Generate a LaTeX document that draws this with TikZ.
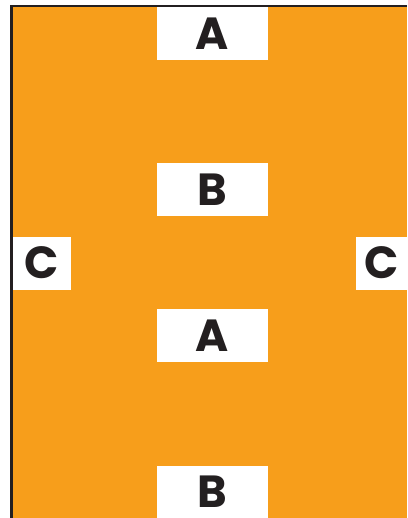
\documentclass[tikz,border=0pt]{standalone}
\usepackage{fontspec}
\setmainfont{Poppins}
\usepackage{tikz}
\definecolor{Field}{HTML}{F79E1B}
\definecolor{Ink}{HTML}{231F20}

\begin{document}
\begin{tikzpicture}[x=1pt,y=-1pt,
  zone/.style={fill=white,inner sep=0pt,text=Ink,font=\bfseries\fontsize{45}{45}\selectfont,minimum width=111pt,minimum height=53pt},
  side/.style={zone,minimum width=#1}]
\useasboundingbox (0,0) rectangle (407,518);
\fill[Field] (11,6) rectangle (407,518);
\node[zone] (topA) at (212.5,33.5) {A};
\node[zone] (topB) at (212.5,190) {B};
\node[side=58pt] (leftC) at (42,263) {C};
\node[side=51pt] (rightC) at (381.5,263) {C};
\node[zone] (lowA) at (212.5,335.5) {A};
\node[zone,minimum height=52pt] (lowB) at (212.5,492) {B};
% frame on the left and top edges
\draw[Ink,line width=2.6pt] (11.3,518) -- (11.3,6) -- (407,6);
\end{tikzpicture}
\end{document}
